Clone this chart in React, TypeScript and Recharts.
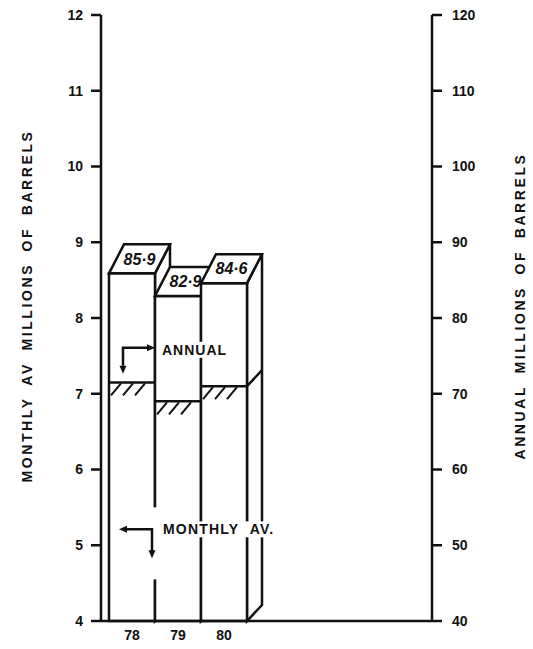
import React from 'react';
import { BarChart, Bar, XAxis, YAxis, Label, ReferenceDot } from 'recharts';

const years = ['78', '79', '80'];
const annualTotals = [85.9, 82.9, 84.6];
const monthlyAverages = [7.15, 6.9, 7.1];
const monthlyTicks = [4, 5, 6, 7, 8, 9, 10, 11, 12];
const annualTicks = [40, 50, 60, 70, 80, 90, 100, 110, 120];

const data = years.map((year, i) => ({
  year,
  annual: annualTotals[i],
  monthly: monthlyAverages[i],
}));

const FONT = '"Liberation Sans", Arial, sans-serif';
const INK = '#111';
// depth of the drawn boxes
const DX = 15;
const TOP_DY = -29;
const LOW_DY = -16;

const fmt = (v: number) => v.toFixed(1).replace('.', '·');

const AnnualBox = (props: any) => {
  const { x, y, width: w, height: h, payload } = props;
  const top = `${x},${y} ${x + w},${y} ${x + w + DX},${y + TOP_DY} ${x + DX},${y + TOP_DY}`;
  const side = `${x + w},${y} ${x + w + DX},${y + TOP_DY} ${x + w + DX},${y + h + LOW_DY} ${x + w},${y + h}`;
  return (
    <g stroke={INK} strokeWidth={2.5} fill="#fff" strokeLinejoin="miter">
      <polygon points={side} />
      <rect x={x} y={y} width={w} height={h} />
      <polygon points={top} />
      <text
        x={x + w / 2 + DX / 2}
        y={y + TOP_DY / 2}
        dy="0.36em"
        textAnchor="middle"
        stroke="none"
        fill={INK}
        fontFamily={FONT}
        fontSize={16}
        fontWeight={700}
        fontStyle="italic"
      >
        {fmt(payload.annual)}
      </text>
    </g>
  );
};

const MonthlyLevel = (props: any) => {
  const { x, y, width: w, index } = props;
  const marks = [];
  for (let mx = x + 2; mx + 9 < x + w; mx += 12) {
    marks.push(<line key={mx} x1={mx} y1={y + 13} x2={mx + 10} y2={y + 1} />);
  }
  return (
    <g stroke={INK} strokeWidth={2}>
      <line x1={x} y1={y} x2={x + w} y2={y} strokeWidth={2.5} />
      {marks}
      {index === years.length - 1 && (
        <line x1={x + w} y1={y} x2={x + w + DX} y2={y + LOW_DY} strokeWidth={2.5} />
      )}
    </g>
  );
};

const head = (x: number, y: number, dir: string) => {
  let pts = '';
  if (dir === 'right') pts = `${x},${y} ${x - 8},${y - 3.5} ${x - 8},${y + 3.5}`;
  if (dir === 'left') pts = `${x},${y} ${x + 8},${y - 3.5} ${x + 8},${y + 3.5}`;
  if (dir === 'down') pts = `${x},${y} ${x - 3.5},${y - 8} ${x + 3.5},${y - 8}`;
  return <polygon points={pts} fill={INK} stroke="none" />;
};

const AnnualNote = (props: any) => {
  const { cx, cy } = props;
  return (
    <g>
      <rect x={cx - 18} y={cy - 8} width={72} height={16} fill="#fff" />
      <text x={cx - 16} y={cy} dy="0.36em" fontFamily={FONT} fontSize={14} fontWeight={700} letterSpacing={1} fill={INK}>
        ANNUAL
      </text>
      <path d={`M${cx - 55},${cy + 16} V${cy - 2} H${cx - 30}`} stroke={INK} strokeWidth={2.5} fill="none" />
      {head(cx - 55, cy + 24, 'down')}
      {head(cx - 23, cy - 2, 'right')}
    </g>
  );
};

const MonthlyNote = (props: any) => {
  const { cx, cy } = props;
  return (
    <g>
      <rect x={cx - 29} y={cy - 22} width={10} height={72} fill="#fff" />
      <rect x={cx - 17} y={cy - 8} width={120} height={16} fill="#fff" />
      <text x={cx - 15} y={cy} dy="0.36em" fontFamily={FONT} fontSize={14} fontWeight={700} letterSpacing={1.2} wordSpacing={6} fill={INK}>
        MONTHLY AV.
      </text>
      <path d={`M${cx - 52},${cy} H${cx - 26} V${cy + 22}`} stroke={INK} strokeWidth={2.5} fill="none" />
      {head(cx - 59, cy, 'left')}
      {head(cx - 26, cy + 29, 'down')}
    </g>
  );
};

const axisTitle = (text: string, dx: number) => (p: any) => {
  const vb = p.viewBox || {};
  const x = vb.x + dx;
  const y = vb.y + vb.height / 2 - 12;
  return (
    <text
      x={x}
      y={y}
      transform={`rotate(-90 ${x} ${y})`}
      textAnchor="middle"
      dominantBaseline="central"
      fontFamily={FONT}
      fontSize={14}
      fontWeight={700}
      letterSpacing={2.6}
      wordSpacing={5}
      fill={INK}
    >
      {text}
    </text>
  );
};

const tickStyle = { fill: INK, fontSize: 14, fontWeight: 700, fontFamily: FONT };
const axisStroke = { stroke: INK, strokeWidth: 2.5 };

export default function App() {
  return (
    <div style={{ position: 'absolute', left: 0, top: 0, width: 533, height: 649, background: '#fff' }}>
      <BarChart
        width={533}
        height={649}
        data={data}
        margin={{ top: 15, right: 0, bottom: 4, left: 0 }}
        barCategoryGap={0}
        barGap={0}
      >
        <XAxis
          xAxisId="a"
          dataKey="year"
          padding={{ left: 8, right: 185 }}
          tickLine={false}
          axisLine={axisStroke}
          tick={tickStyle}
          height={24}
          tickSize={6}
          tickMargin={3}
        />
        <XAxis xAxisId="m" dataKey="year" padding={{ left: 8, right: 185 }} hide />
        <YAxis
          yAxisId="left"
          domain={[4, 12]}
          ticks={monthlyTicks}
          width={101}
          axisLine={axisStroke}
          tickLine={axisStroke}
          tickSize={10}
          tickMargin={8}
          tick={tickStyle}
        >
          <Label content={axisTitle('MONTHLY AV MILLIONS OF BARRELS', 27)} />
        </YAxis>
        <YAxis
          yAxisId="right"
          orientation="right"
          domain={[40, 120]}
          ticks={annualTicks}
          width={101}
          axisLine={axisStroke}
          tickLine={axisStroke}
          tickSize={10}
          tickMargin={10}
          tick={tickStyle}
        >
          <Label content={axisTitle('ANNUAL MILLIONS OF BARRELS', 88)} />
        </YAxis>
        <Bar xAxisId="a" yAxisId="right" dataKey="annual" shape={AnnualBox} isAnimationActive={false} />
        <Bar xAxisId="m" yAxisId="left" dataKey="monthly" shape={MonthlyLevel} isAnimationActive={false} />
        <ReferenceDot xAxisId="a" yAxisId="left" x="79" y={7.58} shape={AnnualNote} />
        <ReferenceDot xAxisId="a" yAxisId="left" x="79" y={5.21} shape={MonthlyNote} />
      </BarChart>
    </div>
  );
}
